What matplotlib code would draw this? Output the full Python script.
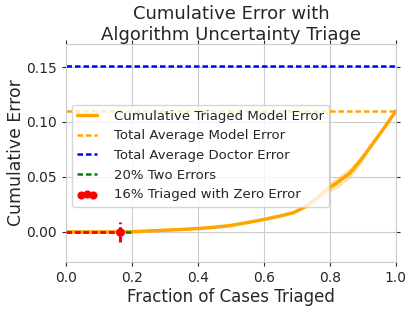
import numpy as np
import matplotlib
matplotlib.use("Agg")
import matplotlib.pyplot as plt
import seaborn as sns

# fraction of cases triaged vs cumulative error
frac = [0.0, 0.05, 0.10, 0.15, 0.164, 0.20, 0.25, 0.30, 0.35, 0.40, 0.45, 0.50,
        0.55, 0.60, 0.65, 0.69, 0.73, 0.76, 0.785, 0.82, 0.861, 0.891, 0.921, 0.962, 1.0]
cum_err = [0.0, 0.0, 0.0, 0.0, 0.0, 0.0001, 0.0008, 0.0015, 0.0022, 0.003, 0.0042, 0.0058,
           0.0085, 0.0113, 0.0145, 0.0175, 0.0235, 0.0305, 0.0378, 0.0444, 0.0537, 0.0644, 0.0767, 0.0936, 0.110]
band = [0, 0, 0, 0, 0, 0, 0, 0, 0, 0, 0, 0,
        0, 0, 0, 0.0003, 0.0008, 0.002, 0.004, 0.005, 0.005, 0.004, 0.0015, 0.0005, 0]

model_err = 0.110
doctor_err = 0.151
two_err_frac = 0.20
zero_err_frac = 0.164

sns.set_style("whitegrid")
plt.rcParams['font.family'] = ['DejaVu Sans']

fig, ax = plt.subplots(figsize=(4.15, 3.12), dpi=100)
fig.subplots_adjust(left=0.159, right=0.954, top=0.859, bottom=0.16)

dash = (0, (2.2, 1.2))
lo = np.array(cum_err) - np.array(band)
hi = np.array(cum_err) + np.array(band)
ax.fill_between(frac, lo, hi, color='orange', alpha=0.3, lw=0)
ax.plot(frac, cum_err, color='orange', lw=2.5, label='Cumulative Triaged Model Error')
ax.plot([0, 1], [model_err, model_err], color='orange', ls=dash, lw=1.8, label='Total Average Model Error')
ax.plot([0, 1], [doctor_err, doctor_err], color='blue', ls=dash, lw=1.8, label='Total Average Doctor Error')
ax.plot([0, two_err_frac], [0, 0], color='green', ls=dash, lw=1.8, label='20% Two Errors')
ax.plot([0, zero_err_frac], [0, 0], color='red', ls=dash, lw=1.8, zorder=4)
ax.plot([zero_err_frac, zero_err_frac], [-0.009, 0.009], color='red', ls=(0, (2.0, 1.0)), lw=2.2, zorder=6)
ax.scatter([zero_err_frac], [0], color='red', s=40, zorder=7, linewidths=0,
           label='16% Triaged with Zero Error')

ax.set_xlim(0, 1)
ax.set_ylim(-0.0275, 0.171)
ax.set_xticks([0, 0.2, 0.4, 0.6, 0.8, 1.0])
ax.set_yticks([0, 0.05, 0.10, 0.15])
ax.tick_params(axis='both', which='both', direction='out', length=3, width=0.8,
               color='0.15', labelsize=10, top=True, right=True, bottom=True, left=True)
for s in ax.spines.values():
    s.set_color('0.8')

ax.set_title('Cumulative Error with\nAlgorithm Uncertainty Triage', fontsize=13, color='0.15', pad=3)
ax.set_xlabel('Fraction of Cases Triaged', fontsize=12, color='0.15', labelpad=2)
ax.set_ylabel('Cumulative Error', fontsize=12.4, color='0.15', labelpad=1)

leg = ax.legend(loc='upper left', bbox_to_anchor=(0.018, 0.722), fontsize=9.5, frameon=True,
                borderaxespad=0, handlelength=1.5, handletextpad=1.3, labelspacing=0.5,
                scatterpoints=3)
for h in leg.legend_handles:
    if hasattr(h, 'set_sizes'):
        h.set_sizes([34])

fig.savefig('out.png', dpi=100)
